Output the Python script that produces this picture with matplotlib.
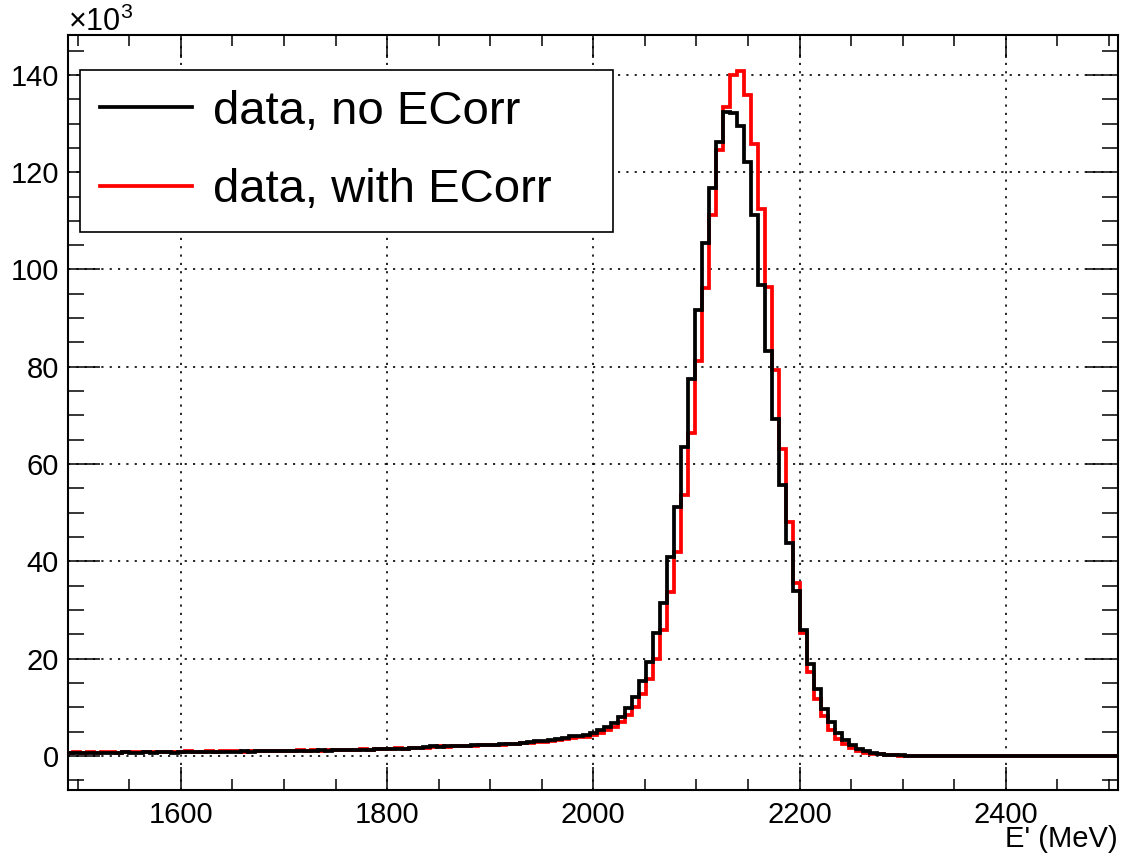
import numpy as np
import matplotlib
matplotlib.use('Agg')
import matplotlib.pyplot as plt
from matplotlib.ticker import MultipleLocator

plt.rcParams['font.family'] = ['Liberation Sans', 'DejaVu Sans']
plt.rcParams['mathtext.fontset'] = 'custom'
plt.rcParams['mathtext.rm'] = 'Liberation Sans'
plt.rcParams['mathtext.it'] = 'Liberation Sans:italic'

# ---- histogram binning (MeV) ----
E_LO = 1488.6
BIN_W = 6.78
N_BINS = 151

# ---- bin contents, in units of 10^3 entries ----
# low-energy tail, bins 0..73
black_tail = [0.6, 0.6, 0.7, 0.6, 0.7, 0.7, 0.6, 0.7, 0.8, 0.7,
              0.7, 0.8, 0.7, 0.8, 0.8, 0.7, 0.9, 0.8, 0.8, 0.9,
              0.8, 0.9, 0.9, 0.8, 0.9, 1.0, 0.9, 1.0, 1.0, 1.0,
              1.1, 1.0, 1.1, 1.1, 1.0, 1.1, 1.2, 1.1, 1.2, 1.2,
              1.2, 1.3, 1.2, 1.3, 1.4, 1.4, 1.5, 1.4, 1.5, 1.6,
              1.6, 1.8, 2.0, 1.9, 2.0, 2.0, 2.1, 2.1, 2.2, 2.2,
              2.3, 2.3, 2.4, 2.4, 2.5, 2.7, 2.8, 3.0, 3.1, 3.3,
              3.5, 3.7, 4.0, 4.1]
red_tail = [0.7, 0.8, 0.7, 0.8, 0.7, 0.8, 0.8, 0.7, 0.8, 0.9,
            0.8, 0.8, 0.9, 0.8, 0.9, 0.8, 0.9, 1.0, 0.9, 0.9,
            1.0, 0.9, 1.0, 1.0, 1.0, 0.9, 1.1, 1.0, 1.1, 1.0,
            1.1, 1.1, 1.0, 1.2, 1.1, 1.2, 1.1, 1.2, 1.3, 1.2,
            1.3, 1.2, 1.4, 1.3, 1.4, 1.5, 1.4, 1.6, 1.5, 1.6,
            1.7, 1.7, 1.8, 2.0, 1.9, 2.0, 2.0, 2.1, 2.1, 2.2,
            2.2, 2.3, 2.3, 2.4, 2.4, 2.6, 2.7, 2.8, 2.9, 3.1,
            3.2, 3.4, 3.6, 3.8]
# peak region, bins 74..119
black_peak = [4.3, 4.8, 5.3, 6.0, 6.7, 8.1, 9.8, 12.2, 15.4, 19.4,
              25.2, 31.4, 40.9, 51.1, 63.6, 77.5, 91.7, 105.4, 116.8, 126.2,
              132.3, 132.1, 129.5, 122.0, 111.1, 96.8, 83.3, 69.3, 55.7, 43.7,
              34.0, 25.9, 18.9, 13.8, 9.7, 6.9, 4.7, 3.3, 2.3, 1.5,
              1.1, 0.7, 0.4, 0.25, 0.15, 0.1]
red_peak = [3.9, 4.3, 4.8, 5.3, 6.0, 6.9, 8.4, 10.1, 12.7, 15.8,
            20.0, 25.9, 33.6, 42.0, 53.7, 66.3, 81.1, 96.2, 111.1, 124.6,
            133.5, 140.0, 140.9, 135.9, 125.8, 112.5, 96.4, 79.4, 63.1, 48.0,
            35.5, 25.3, 17.3, 11.7, 8.2, 5.3, 3.4, 2.4, 1.6, 1.1,
            0.7, 0.45, 0.3, 0.15, 0.1, 0.06]
# high-energy side, bins 120..150
black_high = [0.08, 0.06, 0.05, 0.05, 0.04, 0.04, 0.03, 0.03, 0.03, 0.03,
              0.02, 0.02, 0.02, 0.02, 0.02, 0.02, 0.02, 0.02, 0.02, 0.02,
              0.02, 0.02, 0.02, 0.02, 0.02, 0.02, 0.02, 0.02, 0.02, 0.02, 0.02]
red_high = [0.05, 0.04, 0.04, 0.03, 0.03, 0.03, 0.03, 0.02, 0.02, 0.02,
            0.02, 0.02, 0.02, 0.02, 0.02, 0.02, 0.02, 0.02, 0.02, 0.02,
            0.02, 0.02, 0.02, 0.02, 0.02, 0.02, 0.02, 0.02, 0.02, 0.02, 0.02]

labels = ['data, no ECorr', 'data, with ECorr']
x_ticks = [1600, 1800, 2000, 2200, 2400]
y_ticks = [0, 20, 40, 60, 80, 100, 120, 140]

black = np.array(black_tail + black_peak + black_high)
red = np.array(red_tail + red_peak + red_high)
edges = E_LO + BIN_W * np.arange(N_BINS + 1)

W, H = 1122, 858
fig = plt.figure(figsize=(W / 100, H / 100), dpi=100)
ax = fig.add_axes([68 / W, 1 - 790 / H, 1050 / W, 755 / H])

h_red = ax.stairs(red, edges, baseline=None, color='#ff0000', lw=2.7,
                  label=labels[1], zorder=3)
h_black = ax.stairs(black, edges, baseline=None, color='black', lw=2.7,
                    label=labels[0], zorder=4)

ax.set_xlim(1490.5, 2508.9)
ax.set_ylim(-7.0, 148.2)

ax.set_xticks(x_ticks)
ax.set_yticks(y_ticks)
ax.xaxis.set_minor_locator(MultipleLocator(50))
ax.yaxis.set_minor_locator(MultipleLocator(5))
ax.tick_params(which='both', direction='in', top=True, right=True,
               width=1.1, color='black', labelsize=21)
ax.tick_params(axis='x', which='major', length=16.3, pad=8)
ax.tick_params(axis='x', which='minor', length=8.1)
ax.tick_params(axis='y', which='major', length=22.7, pad=6.5)
ax.tick_params(axis='y', which='minor', length=11.3)
for s in ax.spines.values():
    s.set_linewidth(1.5)

ax.grid(True, which='major', color='black', linestyle=(0, (1.3, 3.7)),
        linewidth=1.2)

ax.set_xlabel("E' (MeV)", loc='right', fontsize=21, labelpad=-3)
fig.text(68 / W, 1 - 31 / H, r'$\times10^{3}$', fontsize=22,
         ha='left', va='baseline')

leg = ax.legend(handles=[h_black, h_red], loc='upper left',
                bbox_to_anchor=(12 / 1050, 1 - 35 / 755 - 0.4, 533 / 1050, 0.4),
                mode='expand', borderaxespad=0, fontsize=34,
                handlelength=1.95, handletextpad=0.45, borderpad=0.42,
                labelspacing=0.73, fancybox=False, framealpha=1,
                edgecolor='black')
leg.get_frame().set_linewidth(1.2)
for line in leg.get_lines():
    line.set_linewidth(2.7)

fig.savefig('out.png', dpi=100)
